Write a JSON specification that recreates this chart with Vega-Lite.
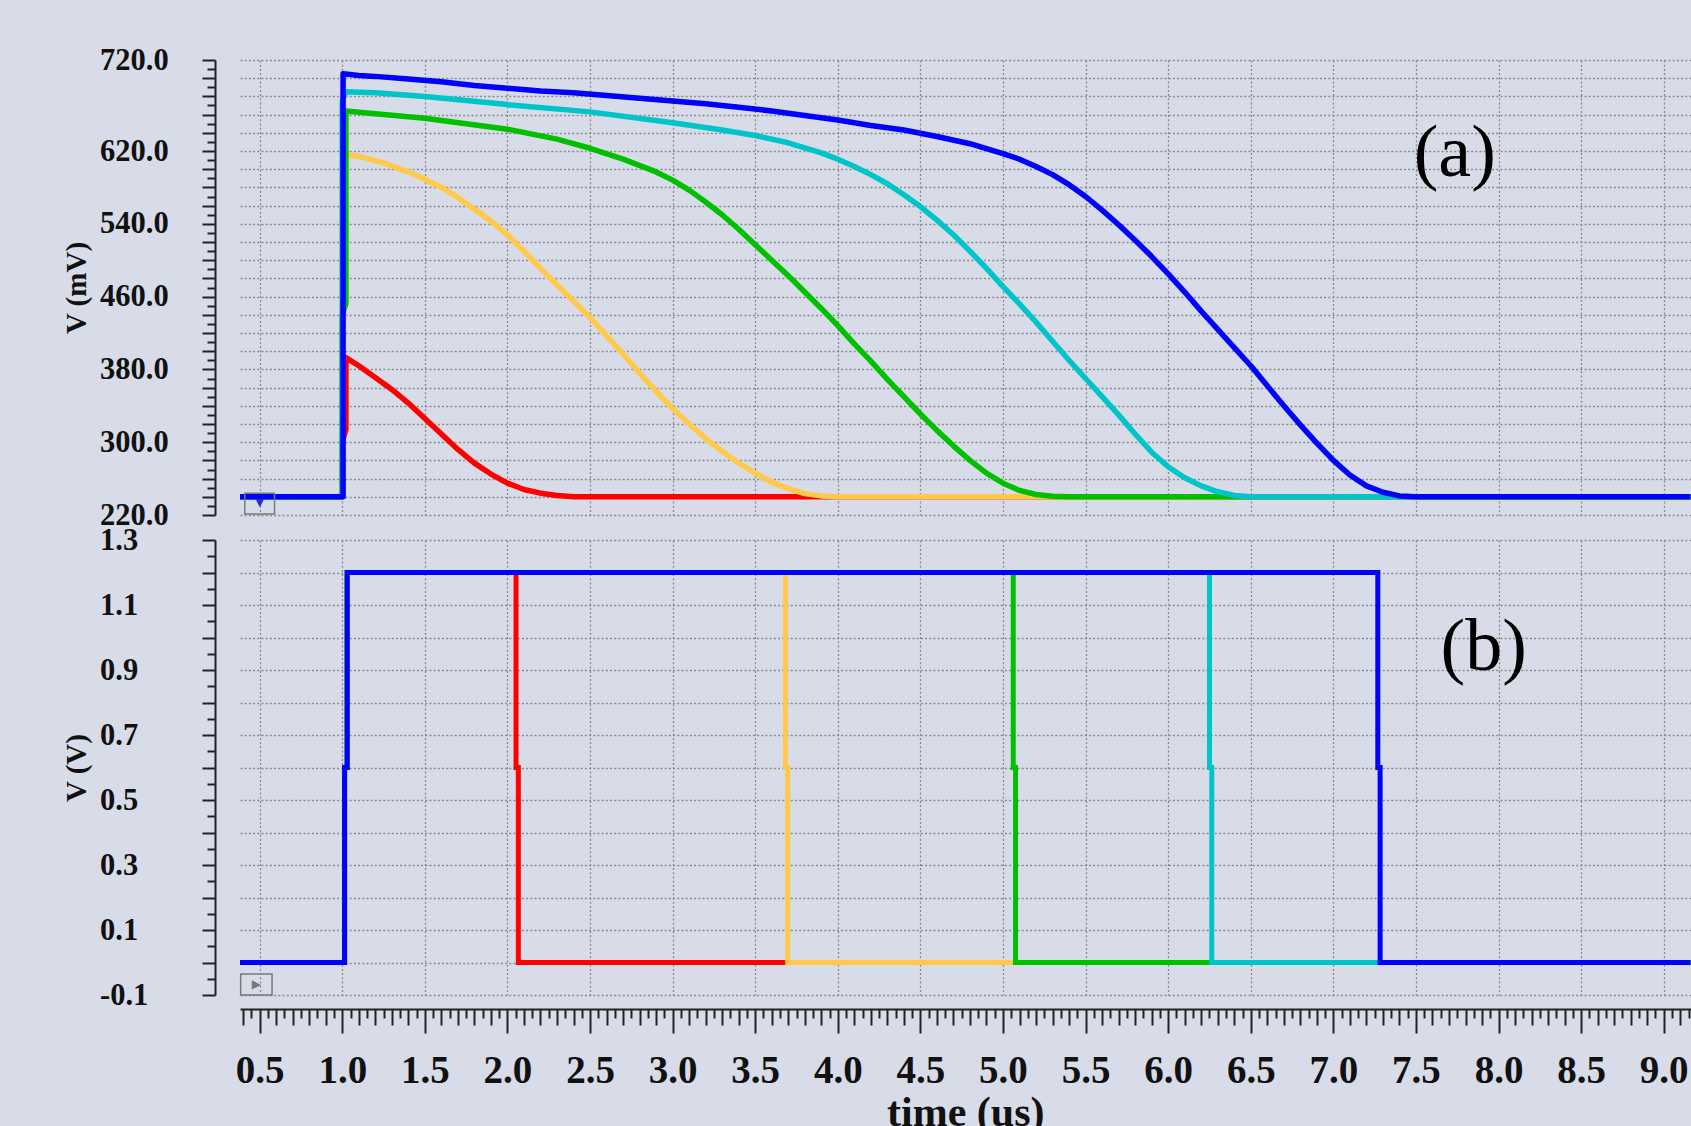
{
  "$schema": "https://vega.github.io/schema/vega-lite/v6.json",
  "background": "#d8dce8",
  "padding": {"left": 62, "top": 45, "right": 20, "bottom": 20},
  "spacing": 25,
  "bounds": "flush",
  "resolve": {"scale": {"x": "independent"}, "axis": {"x": "independent"}},
  "config": {
    "view": {"stroke": null},
    "axis": {
      "labelFont": "Liberation Serif", "labelFontWeight": "bold", "labelColor": "#111",
      "titleFont": "Liberation Serif", "titleFontWeight": "bold", "titleColor": "#111",
      "domainColor": "#222", "domainWidth": 2, "tickColor": "#222", "tickWidth": 2,
      "gridColor": "#8a8a8a", "gridDash": [2, 2.2], "gridWidth": 1.3,
      "labelOverlap": false, "labelFlush": false, "labelBound": false
    }
  },
  "datasets": {
    "a": [
      {"s":"1","t":0.38,"v":240},{"s":"1","t":1.0,"v":240},{"s":"1","t":1.0,"v":300},{"s":"1","t":1.022,"v":314},{"s":"1","t":1.022,"v":393},{"s":"1","t":1.1,"v":384},{"s":"1","t":1.2,"v":371},{"s":"1","t":1.3,"v":358},{"s":"1","t":1.4,"v":343},{"s":"1","t":1.5,"v":326},{"s":"1","t":1.6,"v":309},{"s":"1","t":1.7,"v":292},{"s":"1","t":1.8,"v":277},{"s":"1","t":1.9,"v":265},{"s":"1","t":2.0,"v":255},{"s":"1","t":2.1,"v":248},{"s":"1","t":2.2,"v":244},{"s":"1","t":2.3,"v":241.5},{"s":"1","t":2.4,"v":240},{"s":"1","t":9.17,"v":240},
      {"s":"2","t":0.38,"v":240},{"s":"2","t":1.0,"v":240},{"s":"2","t":1.0,"v":600},{"s":"2","t":1.022,"v":616},{"s":"2","t":1.1,"v":614},{"s":"2","t":1.25,"v":607},{"s":"2","t":1.4,"v":597},{"s":"2","t":1.5,"v":589},{"s":"2","t":1.6,"v":580},{"s":"2","t":1.7,"v":569},{"s":"2","t":1.8,"v":556},{"s":"2","t":1.9,"v":543},{"s":"2","t":2.0,"v":528},{"s":"2","t":2.1,"v":510},{"s":"2","t":2.2,"v":491},{"s":"2","t":2.3,"v":473},{"s":"2","t":2.4,"v":455},{"s":"2","t":2.5,"v":437},{"s":"2","t":2.6,"v":417},{"s":"2","t":2.7,"v":397},{"s":"2","t":2.8,"v":376},{"s":"2","t":2.9,"v":356},{"s":"2","t":3.0,"v":337},{"s":"2","t":3.1,"v":320},{"s":"2","t":3.2,"v":304},{"s":"2","t":3.3,"v":290},{"s":"2","t":3.4,"v":277},{"s":"2","t":3.5,"v":266},{"s":"2","t":3.6,"v":256},{"s":"2","t":3.7,"v":249},{"s":"2","t":3.8,"v":243.5},{"s":"2","t":3.9,"v":241},{"s":"2","t":4.0,"v":240},{"s":"2","t":9.17,"v":240},
      {"s":"3","t":0.38,"v":240},{"s":"3","t":1.0,"v":240},{"s":"3","t":1.0,"v":440},{"s":"3","t":1.022,"v":452},{"s":"3","t":1.022,"v":664},{"s":"3","t":1.2,"v":661},{"s":"3","t":1.5,"v":656},{"s":"3","t":2.0,"v":644},{"s":"3","t":2.3,"v":633},{"s":"3","t":2.5,"v":623},{"s":"3","t":2.7,"v":611},{"s":"3","t":2.9,"v":597},{"s":"3","t":3.0,"v":588},{"s":"3","t":3.1,"v":577},{"s":"3","t":3.2,"v":564},{"s":"3","t":3.3,"v":550},{"s":"3","t":3.4,"v":534},{"s":"3","t":3.5,"v":517},{"s":"3","t":3.6,"v":500},{"s":"3","t":3.7,"v":483},{"s":"3","t":3.8,"v":465},{"s":"3","t":3.9,"v":447},{"s":"3","t":4.0,"v":428},{"s":"3","t":4.1,"v":408},{"s":"3","t":4.2,"v":389},{"s":"3","t":4.3,"v":369},{"s":"3","t":4.4,"v":350},{"s":"3","t":4.5,"v":331},{"s":"3","t":4.6,"v":313},{"s":"3","t":4.7,"v":296},{"s":"3","t":4.8,"v":280},{"s":"3","t":4.9,"v":266},{"s":"3","t":5.0,"v":255},{"s":"3","t":5.1,"v":247},{"s":"3","t":5.2,"v":242.5},{"s":"3","t":5.3,"v":240.5},{"s":"3","t":5.4,"v":240},{"s":"3","t":9.17,"v":240},
      {"s":"4","t":0.38,"v":240},{"s":"4","t":1.0,"v":240},{"s":"4","t":1.0,"v":675},{"s":"4","t":1.022,"v":685},{"s":"4","t":1.2,"v":684},{"s":"4","t":1.5,"v":680},{"s":"4","t":2.0,"v":671},{"s":"4","t":2.5,"v":663},{"s":"4","t":3.0,"v":651},{"s":"4","t":3.3,"v":643},{"s":"4","t":3.5,"v":637},{"s":"4","t":3.7,"v":629},{"s":"4","t":3.9,"v":618},{"s":"4","t":4.0,"v":611},{"s":"4","t":4.1,"v":603},{"s":"4","t":4.2,"v":594},{"s":"4","t":4.3,"v":584},{"s":"4","t":4.4,"v":572},{"s":"4","t":4.5,"v":559},{"s":"4","t":4.6,"v":544},{"s":"4","t":4.7,"v":528},{"s":"4","t":4.8,"v":510},{"s":"4","t":4.9,"v":491},{"s":"4","t":5.0,"v":471},{"s":"4","t":5.1,"v":452},{"s":"4","t":5.2,"v":432},{"s":"4","t":5.3,"v":411},{"s":"4","t":5.4,"v":390},{"s":"4","t":5.5,"v":370},{"s":"4","t":5.6,"v":350},{"s":"4","t":5.7,"v":330},{"s":"4","t":5.8,"v":309},{"s":"4","t":5.9,"v":289},{"s":"4","t":6.0,"v":273},{"s":"4","t":6.1,"v":261},{"s":"4","t":6.2,"v":252},{"s":"4","t":6.3,"v":245.5},{"s":"4","t":6.4,"v":241.5},{"s":"4","t":6.5,"v":240},{"s":"4","t":9.17,"v":240},
      {"s":"5","t":0.38,"v":240},{"s":"5","t":1.005,"v":240},{"s":"5","t":1.005,"v":705},{"s":"5","t":1.1,"v":703},{"s":"5","t":1.2,"v":702},{"s":"5","t":1.4,"v":699},{"s":"5","t":1.6,"v":696},{"s":"5","t":1.8,"v":692},{"s":"5","t":2.0,"v":689},{"s":"5","t":2.2,"v":686},{"s":"5","t":2.4,"v":684},{"s":"5","t":2.6,"v":681},{"s":"5","t":2.8,"v":678},{"s":"5","t":3.0,"v":675},{"s":"5","t":3.2,"v":672},{"s":"5","t":3.4,"v":668},{"s":"5","t":3.6,"v":664},{"s":"5","t":3.8,"v":659},{"s":"5","t":4.0,"v":654},{"s":"5","t":4.2,"v":648},{"s":"5","t":4.4,"v":643},{"s":"5","t":4.6,"v":636},{"s":"5","t":4.8,"v":628},{"s":"5","t":5.0,"v":617},{"s":"5","t":5.1,"v":611},{"s":"5","t":5.2,"v":603},{"s":"5","t":5.3,"v":594},{"s":"5","t":5.4,"v":583},{"s":"5","t":5.5,"v":570},{"s":"5","t":5.6,"v":555},{"s":"5","t":5.7,"v":539},{"s":"5","t":5.8,"v":522},{"s":"5","t":5.9,"v":504},{"s":"5","t":6.0,"v":485},{"s":"5","t":6.1,"v":465},{"s":"5","t":6.2,"v":444},{"s":"5","t":6.3,"v":424},{"s":"5","t":6.4,"v":404},{"s":"5","t":6.5,"v":384},{"s":"5","t":6.6,"v":362},{"s":"5","t":6.7,"v":340},{"s":"5","t":6.8,"v":319},{"s":"5","t":6.9,"v":299},{"s":"5","t":7.0,"v":280},{"s":"5","t":7.1,"v":264},{"s":"5","t":7.2,"v":252},{"s":"5","t":7.3,"v":245},{"s":"5","t":7.4,"v":241},{"s":"5","t":7.5,"v":240},{"s":"5","t":9.17,"v":240}
    ],
    "b": [
      {"s":"1","t":0.38,"v":0},{"s":"1","t":1.014,"v":0},{"s":"1","t":1.014,"v":0.6},{"s":"1","t":1.03,"v":0.6},{"s":"1","t":1.03,"v":1.2},{"s":"1","t":2.052,"v":1.2},{"s":"1","t":2.052,"v":0.6},{"s":"1","t":2.066,"v":0.6},{"s":"1","t":2.066,"v":0},{"s":"1","t":9.17,"v":0},
      {"s":"2","t":0.38,"v":0},{"s":"2","t":1.014,"v":0},{"s":"2","t":1.014,"v":0.6},{"s":"2","t":1.03,"v":0.6},{"s":"2","t":1.03,"v":1.2},{"s":"2","t":3.683,"v":1.2},{"s":"2","t":3.683,"v":0.6},{"s":"2","t":3.697,"v":0.6},{"s":"2","t":3.697,"v":0},{"s":"2","t":9.17,"v":0},
      {"s":"3","t":0.38,"v":0},{"s":"3","t":1.014,"v":0},{"s":"3","t":1.014,"v":0.6},{"s":"3","t":1.03,"v":0.6},{"s":"3","t":1.03,"v":1.2},{"s":"3","t":5.062,"v":1.2},{"s":"3","t":5.062,"v":0.6},{"s":"3","t":5.076,"v":0.6},{"s":"3","t":5.076,"v":0},{"s":"3","t":9.17,"v":0},
      {"s":"4","t":0.38,"v":0},{"s":"4","t":1.014,"v":0},{"s":"4","t":1.014,"v":0.6},{"s":"4","t":1.03,"v":0.6},{"s":"4","t":1.03,"v":1.2},{"s":"4","t":6.25,"v":1.2},{"s":"4","t":6.25,"v":0.6},{"s":"4","t":6.264,"v":0.6},{"s":"4","t":6.264,"v":0},{"s":"4","t":9.17,"v":0},
      {"s":"5","t":0.38,"v":0},{"s":"5","t":1.014,"v":0},{"s":"5","t":1.014,"v":0.6},{"s":"5","t":1.03,"v":0.6},{"s":"5","t":1.03,"v":1.2},{"s":"5","t":7.269,"v":1.2},{"s":"5","t":7.269,"v":0.6},{"s":"5","t":7.283,"v":0.6},{"s":"5","t":7.283,"v":0},{"s":"5","t":9.17,"v":0}
    ],
    "boxa": [{"t":0.41,"t2":0.59,"v":221,"v2":244}],
    "boxb": [{"t":0.385,"t2":0.575,"v":-0.1,"v2":-0.035}],
    "icona": [{"g":"▼","t":0.5,"v":233}],
    "iconb": [{"g":"▶","t":0.48,"v":-0.067}],
    "laba": [{"lab":"(a)","t":7.735,"v":617}],
    "labb": [{"lab":"(b)","t":7.91,"v":0.967}]
  },
  "vconcat": [
    {
      "width": 1450.5,
      "height": 455,
      "encoding": {
        "x": {
          "field": "t", "type": "quantitative",
          "scale": {"domain": [0.381, 9.162], "nice": false, "zero": false},
          "axis": {"values": [0.5,1,1.5,2,2.5,3,3.5,4,4.5,5,5.5,6,6.5,7,7.5,8,8.5,9], "grid": true, "labels": false, "ticks": false, "domain": false, "title": null}
        },
        "y": {
          "field": "v", "type": "quantitative",
          "scale": {"domain": [220, 720], "nice": false, "zero": false},
          "axis": {
            "values": [220,230,240,250,260,270,280,290,300,310,320,330,340,350,360,370,380,390,400,410,420,430,440,450,460,470,480,490,500,510,520,530,540,550,560,570,580,590,600,610,620,630,640,650,660,670,680,690,700,710,720],
            "offset": 25,
            "grid": true,
            "tickSize": {"condition": {"test": "datum.value % 20 == 0", "value": 13}, "value": 8},
            "gridOpacity": {"condition": {"test": "datum.value % 20 == 0", "value": 1}, "value": 0},
            "labelExpr": "indexof([720,620,540,460,380,300,220], datum.value) >= 0 ? format(datum.value, '.1f') : ''",
            "labelAlign": "left", "labelPadding": 102.5, "labelFontSize": 30.5,
            "title": "V (mV)", "titleFontSize": 29, "titleX": -138.5, "titleY": 227.5,
            "titleBaseline": "middle", "titleAlign": "center", "titleAngle": 270
          }
        }
      },
      "layer": [
        {
          "data": {"name": "a"},
          "mark": {"type": "line", "strokeWidth": 5.5, "clip": true, "strokeJoin": "round"},
          "encoding": {
            "color": {"field": "s", "type": "nominal", "scale": {"domain": ["1","2","3","4","5"], "range": ["#ff0000","#ffc94a","#00c000","#00c5c8","#0000ff"]}, "legend": null}
          }
        },
        {
          "data": {"name": "boxa"},
          "mark": {"type": "rect", "fillOpacity": 0, "stroke": "#7a7a7a", "strokeWidth": 1.5},
          "encoding": {"x2": {"field": "t2"}, "y2": {"field": "v2"}}
        },
        {
          "data": {"name": "icona"},
          "mark": {"type": "text", "font": "DejaVu Sans", "fontSize": 11, "color": "#2233bb"},
          "encoding": {"text": {"field": "g"}}
        },
        {
          "data": {"name": "laba"},
          "mark": {"type": "text", "font": "Liberation Serif", "fontSize": 74, "color": "#000", "baseline": "middle", "align": "center"},
          "encoding": {"text": {"field": "lab"}}
        }
      ]
    },
    {
      "width": 1450.5,
      "height": 455,
      "encoding": {
        "x": {
          "field": "t", "type": "quantitative",
          "scale": {"domain": [0.381, 9.162], "nice": false, "zero": false},
          "axis": {
            "values": [0.4,0.45,0.5,0.55,0.6,0.65,0.7,0.75,0.8,0.85,0.9,0.95,1,1.05,1.1,1.15,1.2,1.25,1.3,1.35,1.4,1.45,1.5,1.55,1.6,1.65,1.7,1.75,1.8,1.85,1.9,1.95,2,2.05,2.1,2.15,2.2,2.25,2.3,2.35,2.4,2.45,2.5,2.55,2.6,2.65,2.7,2.75,2.8,2.85,2.9,2.95,3,3.05,3.1,3.15,3.2,3.25,3.3,3.35,3.4,3.45,3.5,3.55,3.6,3.65,3.7,3.75,3.8,3.85,3.9,3.95,4,4.05,4.1,4.15,4.2,4.25,4.3,4.35,4.4,4.45,4.5,4.55,4.6,4.65,4.7,4.75,4.8,4.85,4.9,4.95,5,5.05,5.1,5.15,5.2,5.25,5.3,5.35,5.4,5.45,5.5,5.55,5.6,5.65,5.7,5.75,5.8,5.85,5.9,5.95,6,6.05,6.1,6.15,6.2,6.25,6.3,6.35,6.4,6.45,6.5,6.55,6.6,6.65,6.7,6.75,6.8,6.85,6.9,6.95,7,7.05,7.1,7.15,7.2,7.25,7.3,7.35,7.4,7.45,7.5,7.55,7.6,7.65,7.7,7.75,7.8,7.85,7.9,7.95,8,8.05,8.1,8.15,8.2,8.25,8.3,8.35,8.4,8.45,8.5,8.55,8.6,8.65,8.7,8.75,8.8,8.85,8.9,8.95,9,9.05,9.1,9.15],
            "offset": 14,
            "grid": true,
            "tickSize": {"condition": [{"test": "abs(datum.value*2 - round(datum.value*2)) < 0.001", "value": 24}, {"test": "abs(datum.value*10 - round(datum.value*10)) < 0.001", "value": 16}], "value": 9},
            "gridOpacity": {"condition": {"test": "abs(datum.value*2 - round(datum.value*2)) < 0.001", "value": 1}, "value": 0},
            "labelExpr": "abs(datum.value*2 - round(datum.value*2)) < 0.001 ? format(datum.value, '.1f') : ''",
            "labelFontSize": 39, "labelBaseline": "middle", "labelPadding": 37,
            "title": "time (us)", "titleFontSize": 42, "titleY": 103, "titleBaseline": "middle"
          }
        },
        "y": {
          "field": "v", "type": "quantitative",
          "scale": {"domain": [-0.1, 1.3], "nice": false, "zero": false},
          "axis": {
            "values": [-0.1,-0.05,0,0.05,0.1,0.15,0.2,0.25,0.3,0.35,0.4,0.45,0.5,0.55,0.6,0.65,0.7,0.75,0.8,0.85,0.9,0.95,1,1.05,1.1,1.15,1.2,1.25,1.3],
            "offset": 25,
            "grid": true,
            "tickSize": {"condition": {"test": "abs(datum.value*10 - round(datum.value*10)) < 0.001", "value": 13}, "value": 8},
            "gridOpacity": {"condition": {"test": "abs(datum.value*10 - round(datum.value*10)) < 0.001", "value": 1}, "value": 0},
            "labelExpr": "abs((datum.value+0.1)*5 - round((datum.value+0.1)*5)) < 0.001 ? (datum.value < 0 ? '-' + format(-datum.value, '.1f') : format(datum.value, '.1f')) : ''",
            "labelAlign": "left", "labelPadding": 102.5, "labelFontSize": 30.5,
            "title": "V (V)", "titleFontSize": 29, "titleX": -138.5, "titleY": 227.5,
            "titleBaseline": "middle", "titleAlign": "center", "titleAngle": 270
          }
        }
      },
      "layer": [
        {
          "data": {"name": "b"},
          "mark": {"type": "line", "strokeWidth": 5, "clip": true},
          "encoding": {
            "color": {"field": "s", "type": "nominal", "scale": {"domain": ["1","2","3","4","5"], "range": ["#ff0000","#ffc94a","#00c000","#00c5c8","#0000ff"]}, "legend": null}
          }
        },
        {
          "data": {"name": "boxb"},
          "mark": {"type": "rect", "fillOpacity": 0, "stroke": "#7a7a7a", "strokeWidth": 1.5},
          "encoding": {"x2": {"field": "t2"}, "y2": {"field": "v2"}}
        },
        {
          "data": {"name": "iconb"},
          "mark": {"type": "text", "font": "DejaVu Sans", "fontSize": 12, "color": "#777"},
          "encoding": {"text": {"field": "g"}}
        },
        {
          "data": {"name": "labb"},
          "mark": {"type": "text", "font": "Liberation Serif", "fontSize": 74, "color": "#000", "baseline": "middle", "align": "center"},
          "encoding": {"text": {"field": "lab"}}
        }
      ]
    }
  ]
}
